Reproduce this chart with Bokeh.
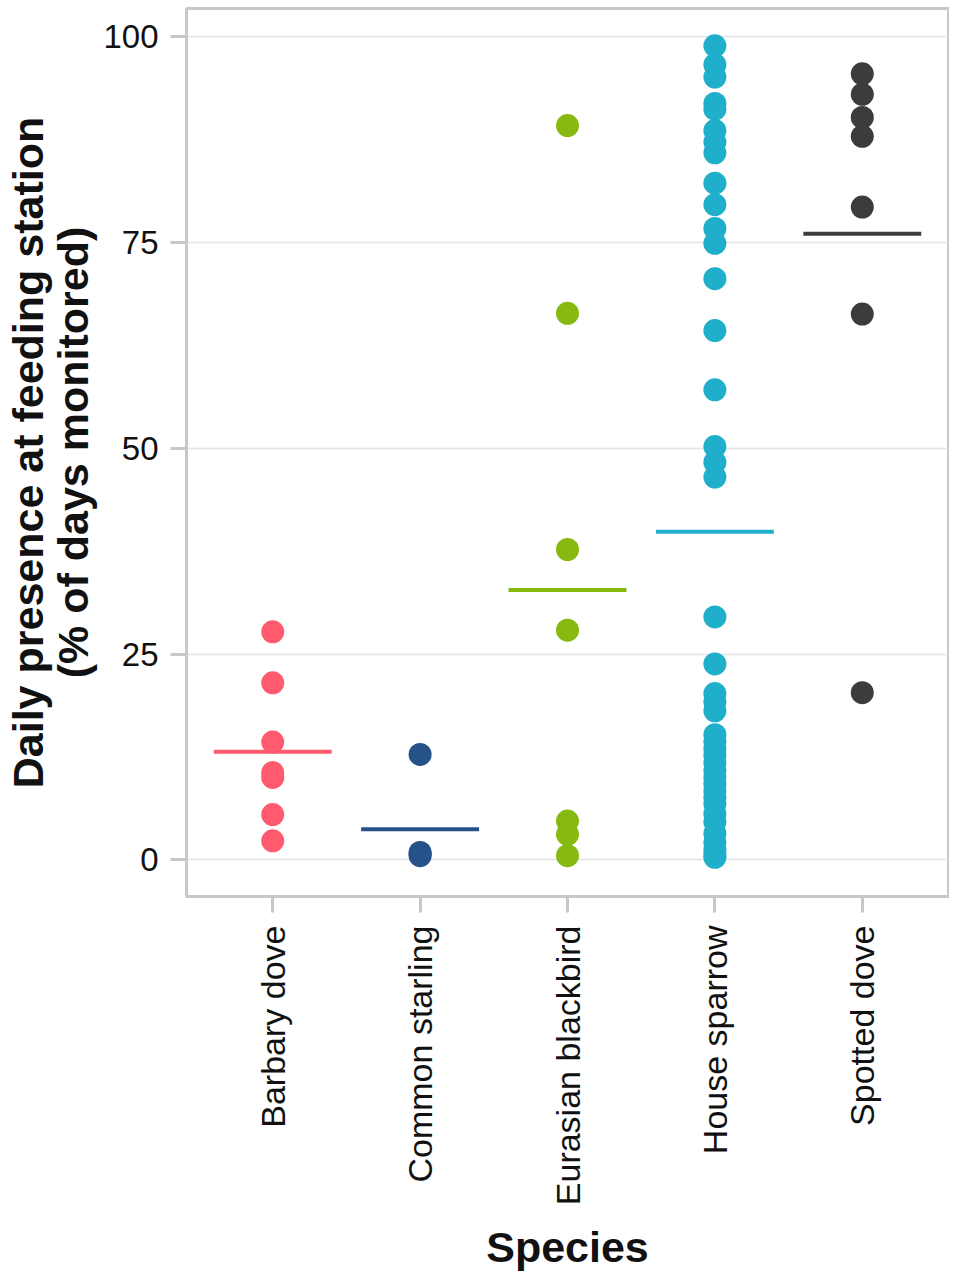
import math
import numpy as np
from bokeh.plotting import figure
from bokeh.models import Range1d, FactorRange, FixedTicker, ColumnDataSource
from bokeh.embed import file_html
from bokeh.resources import INLINE

species = ["Barbary dove", "Common starling", "Eurasian blackbird", "House sparrow", "Spotted dove"]
colors = ["#FF5A6E", "#26528A", "#86BA10", "#20AFCB", "#3C3C3C"]

barbary_dove = [27.7, 21.5, 14.3, 10.6, 10.0, 5.5, 2.3]
common_starling = [12.8, 0.9, 0.7, 0.5]
eurasian_blackbird = [89.2, 66.4, 37.7, 27.9, 4.7, 3.1, 0.5]
house_sparrow = [98.9, 96.6, 95.1, 91.9, 91.2, 88.6, 87.2, 85.9, 82.2, 79.6,
                 76.7, 74.9, 70.6, 64.3, 57.1, 50.2, 48.3, 46.5, 29.5, 23.8,
                 20.2, 19.2, 18.1, 15.2, 14.3, 13.5, 12.7, 11.8, 10.8, 10.0,
                 9.2, 8.4, 7.6, 6.8, 5.6, 4.6, 3.2, 2.1, 1.2, 0.6, 0.3]
spotted_dove = [95.5, 93.0, 90.2, 87.9, 79.3, 66.3, 20.3]

y_ticks = [0, 25, 50, 75, 100]

series = [barbary_dove, common_starling, eurasian_blackbird, house_sparrow, spotted_dove]

FONT = "Liberation Sans"
GRAY = "#c8c8c8"

p = figure(width=949, height=1276, output_backend="svg", toolbar_location=None,
           x_range=FactorRange(factors=species, range_padding=0.034),
           y_range=Range1d(-4.46, 103.43),
           min_border_left=186, min_border_right=1, min_border_top=8,
           min_border_bottom=380)

for name, vals, col in zip(species, series, colors):
    src = ColumnDataSource(dict(x=[name] * len(vals), y=vals))
    p.scatter("x", "y", source=src, size=23, fill_color=col, line_color=None)

means = [float(np.mean(v)) for v in series]
p.rect(x=species, y=means, width=0.8, height=4, height_units="screen",
       fill_color=colors, line_color=None)

p.outline_line_color = GRAY
p.outline_line_width = 3
p.xgrid.grid_line_color = None
p.ygrid.grid_line_color = "#e3e3e3"
p.ygrid.grid_line_width = 1.5
p.yaxis.ticker = FixedTicker(ticks=y_ticks)

for ax in (p.xaxis[0], p.yaxis[0]):
    ax.axis_line_color = GRAY
    ax.axis_line_width = 3
    ax.major_tick_line_color = GRAY
    ax.major_tick_line_width = 3
    ax.major_tick_out = 16
    ax.major_tick_in = 0
    ax.minor_tick_line_color = None
    ax.major_label_text_font = FONT
    ax.major_label_text_color = "#111111"
    ax.axis_label_text_font = FONT
    ax.axis_label_text_font_style = "bold"
    ax.axis_label_text_font_size = "43px"
    ax.axis_label_text_color = "#111111"

p.xaxis.major_label_text_font_size = "34px"
p.yaxis.major_label_text_font_size = "33px"
p.xaxis.major_label_orientation = math.pi / 2
p.xaxis.major_label_standoff = 13
p.yaxis.major_label_standoff = 12
p.xaxis.axis_label = "Species"
p.xaxis.axis_label_standoff = 15
p.yaxis.axis_label = "Daily presence at feeding station\n(% of days monitored)"
p.yaxis.axis_label_standoff = 3
p.yaxis.axis_label_text_line_height = 0.95

open("out.html", "w").write(file_html(p, INLINE))
